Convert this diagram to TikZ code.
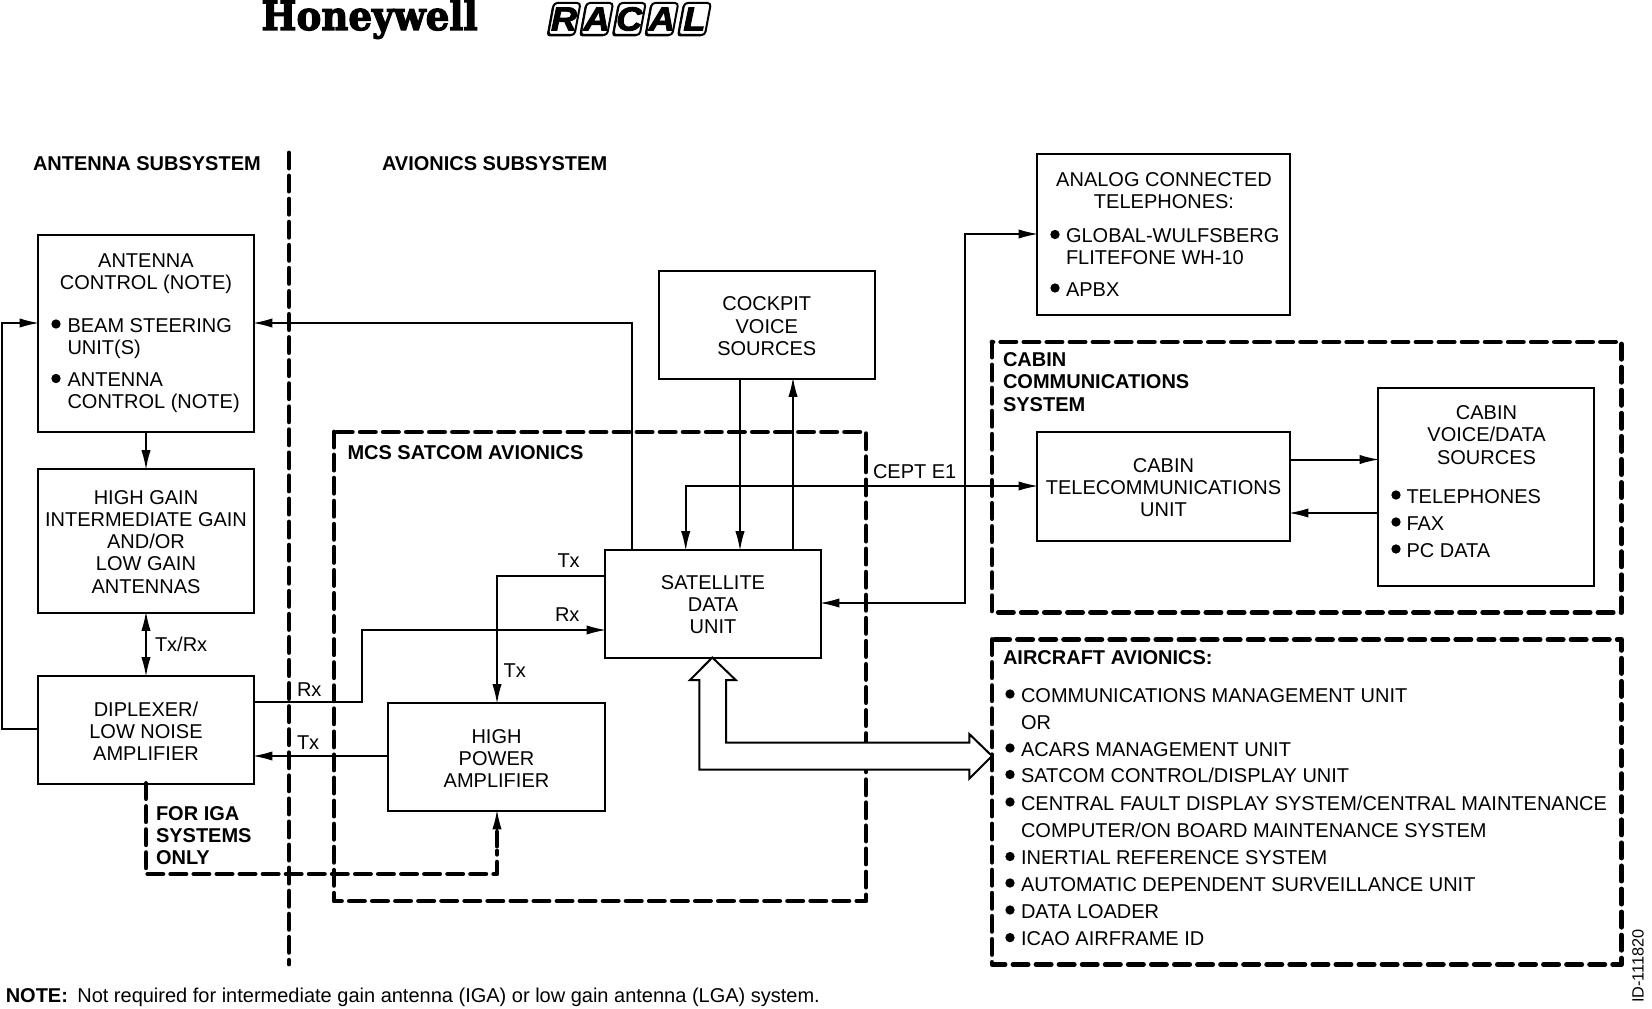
\documentclass[tikz,border=0pt]{standalone}
\usepackage{fontspec}
\setmainfont{Liberation Sans}
\newfontfamily\hwfont[FakeBold=3.2]{DejaVu Serif Bold}
\newfontfamily\racfont[FakeBold=2.6]{Liberation Sans Bold Italic}
\usetikzlibrary{arrows.meta}
\tikzset{
  x=.75pt,y=-.75pt,
  txt/.style={inner sep=0pt,outer sep=0pt,font=\fontsize{15}{16.6}\selectfont},
  one/.style={txt,text height=10.8pt,text depth=0pt},
  boldone/.style={one,font=\fontsize{15}{16.6}\selectfont\bfseries},
  boldtxt/.style={txt,font=\fontsize{15}{16.6}\selectfont\bfseries,align=left},
  box/.style={draw,line width=1.5pt,inner sep=0pt,outer sep=0pt},
  bul/.style={circle,fill=black,inner sep=0pt,minimum size=7pt},
  conn/.style={line width=1.5pt,line join=miter},
  arr/.style={conn,-{Latex[length=15pt,width=7pt]},shorten >=-1.2pt},
  biarr/.style={conn,{Latex[length=15pt,width=7pt]}-{Latex[length=15pt,width=7pt]},shorten >=-1.2pt,shorten <=-1.2pt},
  thickdash/.style={line width=3.7pt,line cap=round,line join=round,dash pattern=on 11.3pt off 6pt},
  tile/.style={draw,fill=white,line width=1.5pt,rounded corners=2.5pt},
  tileshadow/.style={fill=black,rounded corners=2.5pt},
  tileletter/.style={inner sep=0pt,xscale=1.08,font=\racfont\fontsize{25}{25}\selectfont}
}
\newcommand{\bx}[6]{%
  \pgfmathsetmacro\bw{(#4-#2)*.75}\pgfmathsetmacro\bh{(#5-#3)*.75}%
  \node[box,minimum width=\bw pt,minimum height=\bh pt] (#1) at ({(#2+#4)/2},{(#3+#5)/2}) {};
  \node[txt,align=center] (#1text) at ([yshift=-1.1pt]#1.center) {#6};}
\newcommand{\li}[3]{\node[one,anchor=west] (#1) at (#2) {#3};}
\newcommand{\btile}[3]{%
  \pgfmathsetmacro\tx{548+#1*32.6}%
  \fill[tileshadow] (\tx-1.5,36.5) -- (\tx+4.5,4) -- (\tx+31,4) -- (\tx+25,36.5) -- cycle;
  \draw[tile] (\tx,35) -- (\tx+6,3) -- (\tx+32.5,3) -- (\tx+26.5,35) -- cycle;
  \node[tileletter] (#2) at (\tx+16,19) {#3};}
\begin{document}
\begin{tikzpicture}
\useasboundingbox (0,0) rectangle (1652,1009);
% logos
\node[inner sep=0pt,xscale=.93,font=\hwfont\fontsize{30}{30}\selectfont,anchor=base] (honeywell) at (369.5,30) {Honeywell};
\btile{0}{rR}{R}\btile{1}{rA}{A}\btile{2}{rC}{C}\btile{3}{rB}{A}\btile{4}{rL}{L}
% headings
\node[boldone,anchor=west] (antsub) at (33,163) {ANTENNA SUBSYSTEM};
\node[boldone,anchor=west] (avsub) at (382,163) {AVIONICS SUBSYSTEM};
% boxes
\bx{antenna}{38}{235}{254}{432}{}
\bx{highgain}{38}{468.5}{254}{612.5}{HIGH GAIN\\INTERMEDIATE GAIN\\AND/OR\\LOW GAIN\\ANTENNAS}
\bx{diplexer}{38}{675.5}{254}{783.5}{DIPLEXER/\\LOW NOISE\\AMPLIFIER}
\bx{cockpit}{658.5}{271}{875}{378.5}{COCKPIT\\VOICE\\SOURCES}
\bx{sdu}{605}{549.5}{821}{657.5}{SATELLITE\\DATA\\UNIT}
\bx{hpa}{388}{702.5}{605}{811}{HIGH\\POWER\\AMPLIFIER}
\bx{analog}{1037}{154}{1290}{315}{}
\bx{ctu}{1037}{432}{1290}{540.5}{CABIN\\TELECOMMUNICATIONS\\UNIT}
\bx{cvd}{1378}{388}{1594}{586}{}
% antenna box text
\node[txt,align=center] (anttitle) at (146,274) {ANTENNA\\CONTROL (NOTE)};
\node[bul] (ba1) at (56,324) {};
\node[txt,align=left,anchor=west] (ta1) at (67.5,338.5) {BEAM STEERING\\UNIT(S)};
\node[bul] (ba2) at (56,378.5) {};
\node[txt,align=left,anchor=west] (ta2) at (67.5,392.5) {ANTENNA\\CONTROL (NOTE)};
% analog box text
\node[txt,align=center] (antitle) at (1164,191) {ANALOG CONNECTED\\TELEPHONES:};
\node[bul] (bn1) at (1055,234.5) {};
\node[txt,align=left,anchor=west] (tn1) at (1066,247) {GLOBAL-WULFSBERG\\FLITEFONE WH-10};
\node[bul] (bn2) at (1055,288) {};
\li{tn2}{1066,289}{APBX}
% cabin voice text
\node[txt,align=center] (cvtitle) at (1486.5,435) {CABIN\\VOICE/DATA\\SOURCES};
\node[bul] (bc1) at (1396,495) {};
\li{tc1}{1406.5,496}{TELEPHONES}
\node[bul] (bc2) at (1396,522) {};
\li{tc2}{1406.5,523.5}{FAX}
\node[bul] (bc3) at (1396,549) {};
\li{tc3}{1406.5,550}{PC DATA}
% dashed groups
\coordinate (mcsA) at (334,432); \coordinate (mcsB) at (866,901);
\coordinate (cabA) at (992,342); \coordinate (cabB) at (1621.5,612.5);
\coordinate (airA) at (992,639.5); \coordinate (airB) at (1621.5,964.5);
\coordinate (divtop) at (289,153); \coordinate (divbot) at (289,964);
\draw[thickdash] (mcsA) rectangle (mcsB);
\draw[thickdash] (cabA) rectangle (cabB);
\draw[thickdash] (airA) rectangle (airB);
\draw[thickdash] (divtop) -- (divbot);
% group labels
\node[boldone,anchor=west] (mcslabel) at (347.5,452) {MCS SATCOM AVIONICS};
\node[boldtxt,anchor=west] (cablabel) at (1003,382) {CABIN\\COMMUNICATIONS\\SYSTEM};
\node[boldone,anchor=west] (airlabel) at (1003,657.5) {AIRCRAFT AVIONICS:};
\node[boldtxt,anchor=west] (igalabel) at (156,835.5) {FOR IGA\\SYSTEMS\\ONLY};
% aircraft list
\foreach \yy in {695,749,775.5,803,857.5,884,911,938.6} \node[bul] at (1010,\yy-1) {};
\li{a1}{1021,695}{COMMUNICATIONS MANAGEMENT UNIT}
\li{a2}{1021,722}{OR}
\li{a3}{1021,749}{ACARS MANAGEMENT UNIT}
\li{a4}{1021,775.5}{SATCOM CONTROL/DISPLAY UNIT}
\li{a5}{1021,803}{CENTRAL FAULT DISPLAY SYSTEM/CENTRAL MAINTENANCE}
\li{a6}{1021,830}{COMPUTER/ON BOARD MAINTENANCE SYSTEM}
\li{a7}{1021,857.5}{INERTIAL REFERENCE SYSTEM}
\li{a8}{1021,884}{AUTOMATIC DEPENDENT SURVEILLANCE UNIT}
\li{a9}{1021,911}{DATA LOADER}
\li{a10}{1021,938.6}{ICAO AIRFRAME ID}
% connectors
\draw[arr] (sdu.north -| 632,0) |- (antenna.east |- 0,323);
\coordinate (loopL) at (2,729);
\draw[arr] (diplexer.west |- 0,729) -- (loopL) |- (antenna.west |- 0,323);
\draw[arr] (antenna.south) -- (highgain.north);
\draw[biarr] (highgain.south) -- (diplexer.north);
\draw[arr] (diplexer.east |- 0,702) -- (361.6,702) |- (sdu.west |- 0,630);
\draw[arr] (hpa.west |- 0,756) -- (diplexer.east |- 0,756);
\draw[arr] (sdu.west |- 0,576) -| (hpa.north -| 497,0);
\draw[arr] (cockpit.south -| 740,0) -- (sdu.north -| 740,0);
\draw[arr] (sdu.north -| 793,0) -- (cockpit.south -| 793,0);
\draw[biarr] (sdu.north -| 685.7,0) |- (ctu.west |- 0,486);
\draw[biarr] (sdu.east |- 0,603) -| (965,234) -- (analog.west |- 0,234);
\draw[arr] (ctu.east |- 0,459.5) -- (cvd.west |- 0,459.5);
\draw[arr] (cvd.west |- 0,513) -- (ctu.east |- 0,513);
% IGA dashed connector
\coordinate (igaA) at (146,874); \coordinate (igaB) at (497,874);
\coordinate (igaC) at (497,851); \coordinate (igaD) at (497,846); \coordinate (igaE) at (497,832);
\draw[thickdash] (diplexer.south) -- (igaA) -- (igaB) -- (igaC);
\draw[line width=3.7pt,line cap=round] (igaD) -- (igaE);
\draw[arr] (igaE) -- (hpa.south -| igaE);
% wide double arrow
\coordinate (wideA) at (sdu.south -| 712.3,0);
\coordinate (wideB) at (airA |- 0,756);
\draw[conn,fill=white,line join=miter] (wideA) -- (735.7,680) -- (726,680) -- (726,742.7) -- (969.3,742.7) -- (969.3,734) -- (wideB) -- (969.3,778.7) -- (969.3,769.7) -- (699.3,769.7) -- (699.3,680) -- (690,680) -- cycle;
% connector labels
\li{l1}{557.5,560.5}{Tx}
\li{l2}{555,614}{Rx}
\li{l3}{503.6,670}{Tx}
\li{l4}{155,644}{Tx/Rx}
\li{l5}{297,689}{Rx}
\li{l6}{297,742}{Tx}
\li{l7}{873,471}{CEPT E1}
% note
\node[inner sep=0pt,anchor=base west,font=\fontsize{15}{16}\selectfont] (note) at (5.5,1002.5) {\textbf{NOTE:}\hspace{7pt}Not required for intermediate gain antenna (IGA) or low gain antenna (LGA) system.};
\node[inner sep=0pt,rotate=90,font=\fontsize{12.2}{14}\selectfont] (docid) at (1638,966) {ID-111820};
\end{tikzpicture}
\end{document}
